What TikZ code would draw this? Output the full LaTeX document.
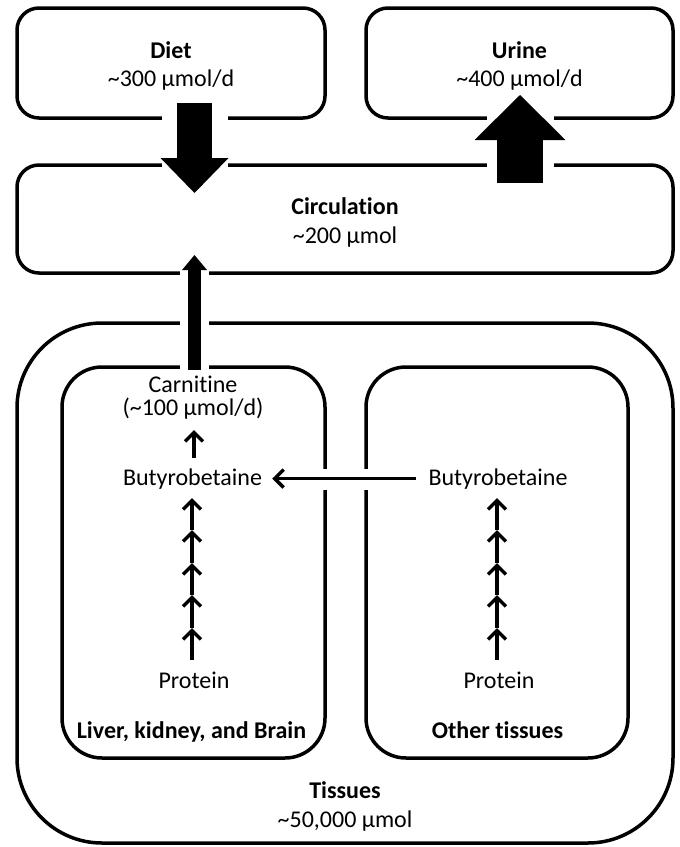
\documentclass[tikz,border=0pt]{standalone}
\usepackage{fontspec}
\setmainfont{Carlito}[Ligatures=NoCommon]
\usetikzlibrary{arrows.meta,backgrounds}
\begin{document}
\begin{tikzpicture}[x=1pt,y=-1pt,
  box/.style={draw, line width=3.5pt, rounded corners=#1, inner sep=0pt},
  txt/.style={font=\fontsize{24}{28}\selectfont, anchor=base, inner sep=0pt},
  btxt/.style={font=\fontsize{24}{28}\selectfont\bfseries, anchor=base, inner sep=0pt},
  thinarrow/.style={line width=3.5pt, -{Straight Barb[length=9pt,width=18pt]}},
  halo/.style={fill=white, draw=none}]
\useasboundingbox (0,0) rectangle (680,847);
\begin{pgfonlayer}{background}
  \node[box=22pt, minimum width=308pt, minimum height=110pt] (diet) at (171,63) {};
  \node[box=22pt, minimum width=307pt, minimum height=110pt] (urine) at (519.5,63) {};
  \node[box=22pt, minimum width=656pt, minimum height=108pt] (circ) at (345,219) {};
  \node[box=85pt, minimum width=656pt, minimum height=520pt] (tissues) at (345,583) {};
  \node[box=40pt, minimum width=263pt, minimum height=391pt] (liverbox) at (193.5,562.5) {};
  \node[box=40pt, minimum width=262pt, minimum height=391pt] (otherbox) at (497,562.5) {};
  \path[halo] (162,108) rectangle (228,172);
  \path[halo] (487,108) rectangle (554,172);
  \path[halo] (180,262) rectangle (209,374);
  \path[halo] (305,469) rectangle (385,490);
\end{pgfonlayer}
% texts
\node[btxt] (dietT) at (171,58) {Diet};
\node[txt] (dietV) at (171,86) {\textasciitilde300 µmol/d};
\node[btxt] (urineT) at (519.5,58) {Urine};
\node[txt] (urineV) at (519.5,86) {\textasciitilde400 µmol/d};
\node[btxt] (circT) at (345,214) {Circulation};
\node[txt] (circV) at (345,243) {\textasciitilde200 µmol};
\node[txt] (carnT) at (193,392) {Carnitine};
\node[txt] (carnV) at (193,415) {(\textasciitilde100 µmol/d)};
\node[txt] (bbL) at (192.5,485) {Butyrobetaine};
\node[txt] (bbR) at (498,485) {Butyrobetaine};
\node[txt] (protL) at (194,688) {Protein};
\node[txt] (protR) at (499,688) {Protein};
\node[btxt] (liverT) at (191.5,738) {Liver, kidney, and Brain};
\node[btxt] (otherT) at (497.5,738) {Other tissues};
\node[btxt] (tissT) at (345,798) {Tissues};
\node[txt] (tissV) at (345,827) {\textasciitilde50,000 µmol};
% block arrows
\coordinate (dietA) at (194.5,103);
\coordinate (dietB) at (194.5,193);
\draw[line width=35pt, -{Triangle[length=35pt,width=68pt,line width=0pt]}] (dietA) -- (dietB);
\coordinate (urineA) at (520,183);
\coordinate (urineB) at (520,95);
\draw[line width=46pt, -{Triangle[length=45pt,width=91pt,line width=0pt]}] (urineA) -- (urineB);
\coordinate (carnA) at (194.5,370);
\coordinate (carnB) at (194.5,255);
\draw[line width=13pt, -{Triangle[length=15pt,width=25pt,line width=0pt]}] (carnA) -- (carnB);
% thin arrows
\draw[thinarrow] (194,458) -- (194,430);
\draw[thinarrow] ([xshift=-12pt]bbR.west) -- ([xshift=10pt]bbL.east);
\foreach \a/\b in {660/628,628/595,595/563,563/530,530/498}{
  \draw[thinarrow] (192,\a) -- (192,\b);
  \draw[thinarrow] (497,\a) -- (497,\b);
}
\end{tikzpicture}
\end{document}
